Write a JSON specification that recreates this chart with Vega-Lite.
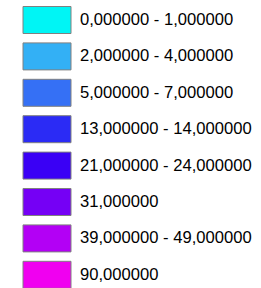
{
  "$schema": "https://vega.github.io/schema/vega-lite/v6.json",
  "width": 1,
  "height": 1,
  "padding": {"left": 33, "top": 3, "right": 0, "bottom": 0},
  "background": "white",
  "config": {"view": {"stroke": null}},
  "data": {"values": [
    {"label": "0,000000 - 1,000000", "order": 1},
    {"label": "2,000000 - 4,000000", "order": 2},
    {"label": "5,000000 - 7,000000", "order": 3},
    {"label": "13,000000 - 14,000000", "order": 4},
    {"label": "21,000000 - 24,000000", "order": 5},
    {"label": "31,000000", "order": 6},
    {"label": "39,000000 - 49,000000", "order": 7},
    {"label": "90,000000", "order": 8}
  ]},
  "mark": {"type": "square", "filled": true, "opacity": 0},
  "encoding": {
    "color": {
      "field": "label",
      "type": "nominal",
      "scale": {
        "domain": ["0,000000 - 1,000000", "2,000000 - 4,000000", "5,000000 - 7,000000", "13,000000 - 14,000000", "21,000000 - 24,000000", "31,000000", "39,000000 - 49,000000", "90,000000"],
        "range": ["#00F5F5", "#33B0F5", "#3570F5", "#2B2BF5", "#3A00F5", "#7500F5", "#B300F5", "#F000F0"]
      },
      "legend": {
        "orient": "left",
        "title": null,
        "symbolType": "M-1.7778,-1H1.7778V1H-1.7778Z",
        "symbolSize": 729,
        "symbolStrokeColor": "#808080",
        "symbolStrokeWidth": 1,
        "symbolOpacity": 1,
        "labelFont": "Liberation Sans",
        "labelFontSize": 16.6,
        "labelColor": "#000000",
        "labelOffset": 19,
        "labelLimit": 400,
        "rowPadding": 4.4,
        "padding": 0,
        "offset": 0,
        "encode": {"symbols": {"update": {"opacity": {"value": 1}, "stroke": {"value": "#808080"}, "strokeWidth": {"value": 1}}}}
      }
    }
  }
}
